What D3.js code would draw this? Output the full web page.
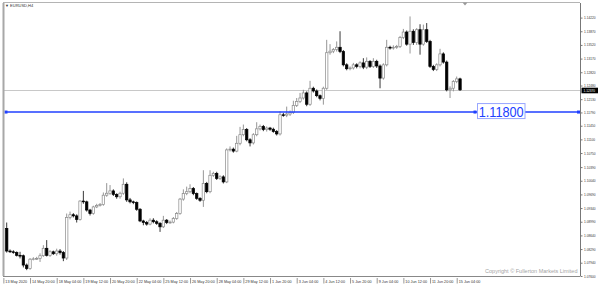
<!DOCTYPE html>
<html>
<head>
<meta charset="utf-8">
<script src="https://cdn.jsdelivr.net/npm/d3@7"></script>
<style>
  body { margin: 0; background: #fff; }
  svg { display: block; font-family: "Liberation Sans", Arial, sans-serif; }
</style>
</head>
<body>
<div class="chart"></div>
<script>
var svgWidth = 600;
var svgHeight = 287;

// plot frame (MT4 style: price scale on the right, time scale at the bottom)
var frame = { left: 4, top: 3, right: 580, bottom: 276 };

// EURUSD H4 bars, [open, high, low, close]
var ohlc = [
  [1.0882, 1.0897, 1.0820, 1.0824], [1.0824, 1.0828, 1.0819, 1.0822], [1.0822, 1.0826, 1.0817, 1.0820],
  [1.0820, 1.0823, 1.0810, 1.0813], [1.0813, 1.0822, 1.0805, 1.0812], [1.0812, 1.0815, 1.0782, 1.0788],
  [1.0788, 1.0792, 1.0775, 1.0779], [1.0779, 1.0806, 1.0776, 1.0803], [1.0803, 1.0808, 1.0800, 1.0804],
  [1.0804, 1.0809, 1.0801, 1.0805], [1.0805, 1.0818, 1.0796, 1.0812], [1.0812, 1.0839, 1.0809, 1.0831],
  [1.0831, 1.0852, 1.0810, 1.0813], [1.0813, 1.0826, 1.0809, 1.0822], [1.0822, 1.0825, 1.0814, 1.0817],
  [1.0817, 1.0830, 1.0812, 1.0824], [1.0824, 1.0829, 1.0815, 1.0820], [1.0820, 1.0824, 1.0798, 1.0806],
  [1.0806, 1.0920, 1.0801, 1.0910], [1.0910, 1.0925, 1.0905, 1.0917], [1.0917, 1.0921, 1.0910, 1.0914],
  [1.0914, 1.0918, 1.0897, 1.0905], [1.0905, 1.0954, 1.0902, 1.0952], [1.0952, 1.0978, 1.0945, 1.0950],
  [1.0950, 1.0953, 1.0925, 1.0929], [1.0929, 1.0932, 1.0915, 1.0920], [1.0920, 1.0940, 1.0917, 1.0937],
  [1.0937, 1.0945, 1.0934, 1.0941], [1.0941, 1.0947, 1.0938, 1.0943], [1.0943, 1.0974, 1.0940, 1.0967],
  [1.0967, 1.0998, 1.0963, 1.0972], [1.0972, 1.0993, 1.0968, 1.0978], [1.0978, 1.0982, 1.0965, 1.0969],
  [1.0969, 1.0972, 1.0958, 1.0963], [1.0963, 1.0976, 1.0958, 1.0972], [1.0972, 1.1010, 1.0968, 1.0995],
  [1.0995, 1.1000, 1.0950, 1.0955], [1.0955, 1.0960, 1.0946, 1.0950], [1.0950, 1.0953, 1.0944, 1.0948],
  [1.0948, 1.0951, 1.0927, 1.0931], [1.0931, 1.0934, 1.0898, 1.0901], [1.0901, 1.0904, 1.0890, 1.0897],
  [1.0897, 1.0901, 1.0889, 1.0893], [1.0893, 1.0908, 1.0890, 1.0903], [1.0903, 1.0908, 1.0895, 1.0899],
  [1.0899, 1.0903, 1.0891, 1.0895], [1.0895, 1.0898, 1.0873, 1.0886], [1.0886, 1.0914, 1.0883, 1.0903],
  [1.0903, 1.0906, 1.0893, 1.0897], [1.0897, 1.0902, 1.0894, 1.0898], [1.0898, 1.0911, 1.0895, 1.0907],
  [1.0907, 1.0924, 1.0904, 1.0920], [1.0920, 1.0960, 1.0917, 1.0957], [1.0957, 1.0982, 1.0953, 1.0971],
  [1.0971, 1.0989, 1.0967, 1.0976], [1.0976, 1.0995, 1.0972, 1.0984], [1.0984, 1.0988, 1.0967, 1.0971],
  [1.0971, 1.0974, 1.0955, 1.0959], [1.0959, 1.0962, 1.0950, 1.0954], [1.0954, 1.1031, 1.0937, 1.0997],
  [1.0997, 1.1001, 1.0972, 1.0976], [1.0976, 1.1031, 1.0972, 1.1018], [1.1018, 1.1027, 1.1014, 1.1023],
  [1.1023, 1.1027, 1.1006, 1.1010], [1.1010, 1.1018, 1.1006, 1.1014], [1.1014, 1.1018, 1.0997, 1.1001],
  [1.1001, 1.1087, 1.0998, 1.1083], [1.1083, 1.1092, 1.1079, 1.1085], [1.1085, 1.1089, 1.1076, 1.1080],
  [1.1080, 1.1119, 1.1077, 1.1100], [1.1100, 1.1142, 1.1095, 1.1122], [1.1122, 1.1148, 1.1118, 1.1135],
  [1.1135, 1.1139, 1.1105, 1.1109], [1.1109, 1.1113, 1.1092, 1.1101], [1.1101, 1.1126, 1.1097, 1.1122],
  [1.1122, 1.1154, 1.1118, 1.1137], [1.1137, 1.1148, 1.1133, 1.1143], [1.1143, 1.1147, 1.1131, 1.1135],
  [1.1135, 1.1143, 1.1130, 1.1139], [1.1139, 1.1142, 1.1132, 1.1136], [1.1136, 1.1140, 1.1127, 1.1130],
  [1.1130, 1.1134, 1.1120, 1.1124], [1.1124, 1.1182, 1.1120, 1.1173], [1.1173, 1.1178, 1.1168, 1.1172],
  [1.1172, 1.1194, 1.1167, 1.1175], [1.1175, 1.1184, 1.1170, 1.1179], [1.1179, 1.1209, 1.1175, 1.1197],
  [1.1197, 1.1216, 1.1193, 1.1207], [1.1207, 1.1229, 1.1203, 1.1216], [1.1216, 1.1237, 1.1212, 1.1229],
  [1.1229, 1.1233, 1.1195, 1.1200], [1.1200, 1.1260, 1.1196, 1.1241], [1.1241, 1.1245, 1.1230, 1.1234],
  [1.1234, 1.1238, 1.1218, 1.1222], [1.1222, 1.1225, 1.1210, 1.1215], [1.1215, 1.1245, 1.1199, 1.1241],
  [1.1241, 1.1365, 1.1237, 1.1332], [1.1332, 1.1354, 1.1327, 1.1336], [1.1336, 1.1344, 1.1331, 1.1340],
  [1.1340, 1.1361, 1.1335, 1.1346], [1.1346, 1.1387, 1.1331, 1.1335], [1.1335, 1.1339, 1.1297, 1.1301],
  [1.1301, 1.1305, 1.1287, 1.1291], [1.1291, 1.1297, 1.1287, 1.1293], [1.1293, 1.1306, 1.1289, 1.1301],
  [1.1301, 1.1305, 1.1292, 1.1297], [1.1297, 1.1310, 1.1292, 1.1306], [1.1306, 1.1318, 1.1290, 1.1295],
  [1.1295, 1.1320, 1.1290, 1.1310], [1.1310, 1.1313, 1.1293, 1.1297], [1.1297, 1.1318, 1.1293, 1.1310],
  [1.1310, 1.1314, 1.1293, 1.1298], [1.1298, 1.1302, 1.1241, 1.1267], [1.1267, 1.1305, 1.1263, 1.1301],
  [1.1301, 1.1365, 1.1297, 1.1346], [1.1346, 1.1350, 1.1340, 1.1344], [1.1344, 1.1351, 1.1340, 1.1346],
  [1.1346, 1.1352, 1.1342, 1.1348], [1.1348, 1.1375, 1.1344, 1.1371], [1.1371, 1.1393, 1.1367, 1.1385],
  [1.1385, 1.1389, 1.1350, 1.1354], [1.1354, 1.1425, 1.1330, 1.1387], [1.1387, 1.1392, 1.1352, 1.1358],
  [1.1358, 1.1395, 1.1352, 1.1391], [1.1391, 1.1405, 1.1327, 1.1354], [1.1354, 1.1404, 1.1350, 1.1391],
  [1.1391, 1.1408, 1.1357, 1.1361], [1.1361, 1.1365, 1.1293, 1.1297], [1.1297, 1.1301, 1.1285, 1.1289],
  [1.1289, 1.1305, 1.1285, 1.1301], [1.1301, 1.1342, 1.1297, 1.1329], [1.1329, 1.1333, 1.1304, 1.1308],
  [1.1308, 1.1312, 1.1233, 1.1237], [1.1237, 1.1246, 1.1216, 1.1241], [1.1241, 1.1262, 1.1233, 1.1258],
  [1.1258, 1.1271, 1.1254, 1.1265], [1.1265, 1.1268, 1.1234, 1.1237]
];

// price scale labels
var yTickValues = [1.14220, 1.13870, 1.13520, 1.13170, 1.12820, 1.12480, 1.12130, 1.11790, 1.11450, 1.11100,
  1.10750, 1.10390, 1.10040, 1.09690, 1.09340, 1.08990, 1.08640, 1.08290, 1.07940, 1.07600];

// time scale labels and the bar index they sit on
var xTickLabels = ["13 May 2020", "14 May 20:00", "18 May 04:00", "19 May 12:00", "20 May 20:00", "22 May 04:00",
  "25 May 12:00", "26 May 20:00", "28 May 04:00", "29 May 12:00", "1 Jun 20:00", "3 Jun 04:00",
  "4 Jun 12:00", "5 Jun 20:00", "9 Jun 04:00", "10 Jun 12:00", "11 Jun 20:00", "15 Jun 04:00"];
var xTickBars = [-1, 7, 15, 23, 31, 39, 47, 55, 63, 71, 79, 87, 95, 103, 111, 119, 127, 135];

var levelPrice = 1.11800;
var bidPrice = 1.12370;

var svg = d3.select(".chart")
  .append("svg")
  .attr("width", svgWidth)
  .attr("height", svgHeight);

var xScale = d3.scaleLinear()
  .domain([0, 135])
  .range([6.7, 456.7]);

var yScale = d3.scaleLinear()
  .domain([1.07600, 1.14220])
  .range([276, 17.6]);

var fmt = d3.format(".5f");

// bid line (drawn under the candles)
svg.append("line")
  .attr("x1", frame.left).attr("x2", frame.right)
  .attr("y1", Math.round(yScale(bidPrice)) + 0.5).attr("y2", Math.round(yScale(bidPrice)) + 0.5)
  .attr("stroke", "#c8c8c8")
  .attr("stroke-width", 1);

// candles
var candles = svg.append("g").selectAll("g")
  .data(ohlc)
  .enter()
  .append("g");

candles.append("line")
  .attr("x1", (d, i) => xScale(i)).attr("x2", (d, i) => xScale(i))
  .attr("y1", d => yScale(d[1])).attr("y2", d => yScale(d[2]))
  .attr("stroke", d => d[3] >= d[0] ? "#8a8a8a" : "#222")
  .attr("stroke-width", 0.9);

candles.append("rect")
  .attr("x", (d, i) => xScale(i) - 1.2)
  .attr("width", 2.4)
  .attr("y", d => yScale(Math.max(d[0], d[3])))
  .attr("height", d => Math.max(0.8, Math.abs(yScale(d[0]) - yScale(d[3]))))
  .attr("fill", d => d[3] >= d[0] ? "#fff" : "#000")
  .attr("stroke", d => d[3] >= d[0] ? "#8a8a8a" : "#000")
  .attr("stroke-width", 0.7);

// horizontal level line
var levelY = yScale(levelPrice);
svg.append("line")
  .attr("x1", frame.left + 1).attr("x2", frame.right)
  .attr("y1", levelY).attr("y2", levelY)
  .attr("stroke", "#2040ff")
  .attr("stroke-width", 1.4);

svg.selectAll(".handle")
  .data([frame.left + 2, 475, frame.right - 1.5])
  .enter()
  .append("rect")
  .attr("class", "handle")
  .attr("x", d => d - 1.5)
  .attr("y", levelY - 1.5)
  .attr("width", 3)
  .attr("height", 3)
  .attr("fill", "#2040ff");

svg.append("rect")
  .attr("x", 477.5).attr("y", levelY - 8.5)
  .attr("width", 47.5).attr("height", 15)
  .attr("fill", "#fff")
  .attr("stroke", "#98a6ff")
  .attr("stroke-width", 1);

svg.append("text")
  .attr("x", 501.2)
  .attr("y", levelY + 5)
  .attr("text-anchor", "middle")
  .attr("font-size", 15)
  .attr("textLength", 45)
  .attr("lengthAdjust", "spacingAndGlyphs")
  .attr("fill", "#2040ff")
  .text(fmt(levelPrice));

// frame lines
svg.append("line")
  .attr("x1", 3.5).attr("x2", 3.5)
  .attr("y1", frame.top).attr("y2", frame.bottom)
  .attr("stroke", "#a8a8a8").attr("stroke-width", 2);

svg.append("line")
  .attr("x1", 3).attr("x2", frame.right)
  .attr("y1", 2.5).attr("y2", 2.5)
  .attr("stroke", "#b4b4b4").attr("stroke-width", 1);

// price axis
var rightAxis = d3.axisRight(yScale)
  .tickValues(yTickValues)
  .tickSize(2)
  .tickPadding(1.5)
  .tickFormat(fmt);

var yAxis = svg.append("g")
  .attr("transform", `translate(${frame.right + 0.5}, 0)`)
  .call(rightAxis);

yAxis.select(".domain")
  .attr("d", `M0,${frame.top}V${frame.bottom}`)
  .attr("stroke", "#777");
yAxis.selectAll(".tick line").attr("stroke", "#777");
yAxis.selectAll(".tick text")
  .attr("font-size", 3.2)
  .attr("fill", "#333");

// bid price tag
var bidY = Math.round(yScale(bidPrice)) + 0.5;
svg.append("rect")
  .attr("x", 581.5).attr("y", bidY - 2.8)
  .attr("width", 16.5).attr("height", 5.6)
  .attr("fill", "#000");
svg.append("text")
  .attr("x", 583.5).attr("y", bidY + 1.2)
  .attr("font-size", 3.2)
  .attr("fill", "#fff")
  .text(fmt(bidPrice));

// time axis
var bottomAxis = d3.axisBottom(xScale)
  .tickValues(xTickBars)
  .tickSize(0)
  .tickFormat((d, i) => xTickLabels[i]);

var xAxis = svg.append("g")
  .attr("transform", `translate(0, ${frame.bottom + 0.5})`)
  .call(bottomAxis);

xAxis.select(".domain")
  .attr("d", `M3,0H${frame.right}`)
  .attr("stroke", "#888");
xAxis.selectAll(".tick text")
  .attr("text-anchor", "start")
  .attr("x", 1.5)
  .attr("y", 3.5)
  .attr("dy", "0.71em")
  .attr("font-size", 3.75)
  .attr("fill", "#333");
xAxis.selectAll(".tick")
  .append("line")
  .attr("y1", 1.5).attr("y2", 7)
  .attr("stroke", "#555")
  .attr("stroke-width", 0.6);

// title
svg.append("text")
  .attr("x", 5)
  .attr("y", 7.3)
  .attr("font-size", 4)
  .attr("fill", "#333")
  .text("\u25BC EURUSD,H4");

// chart shift marker
svg.append("path")
  .attr("d", "M462.5,2.5L467.5,2.5L465,5.5Z")
  .attr("fill", "#999");

// copyright
svg.append("text")
  .attr("x", 577.5)
  .attr("y", 272.5)
  .attr("text-anchor", "end")
  .attr("font-size", 5.5)
  .attr("fill", "#a4a4a4")
  .text("Copyright \u00A9 Fullerton Markets Limited");
</script>
</body>
</html>
